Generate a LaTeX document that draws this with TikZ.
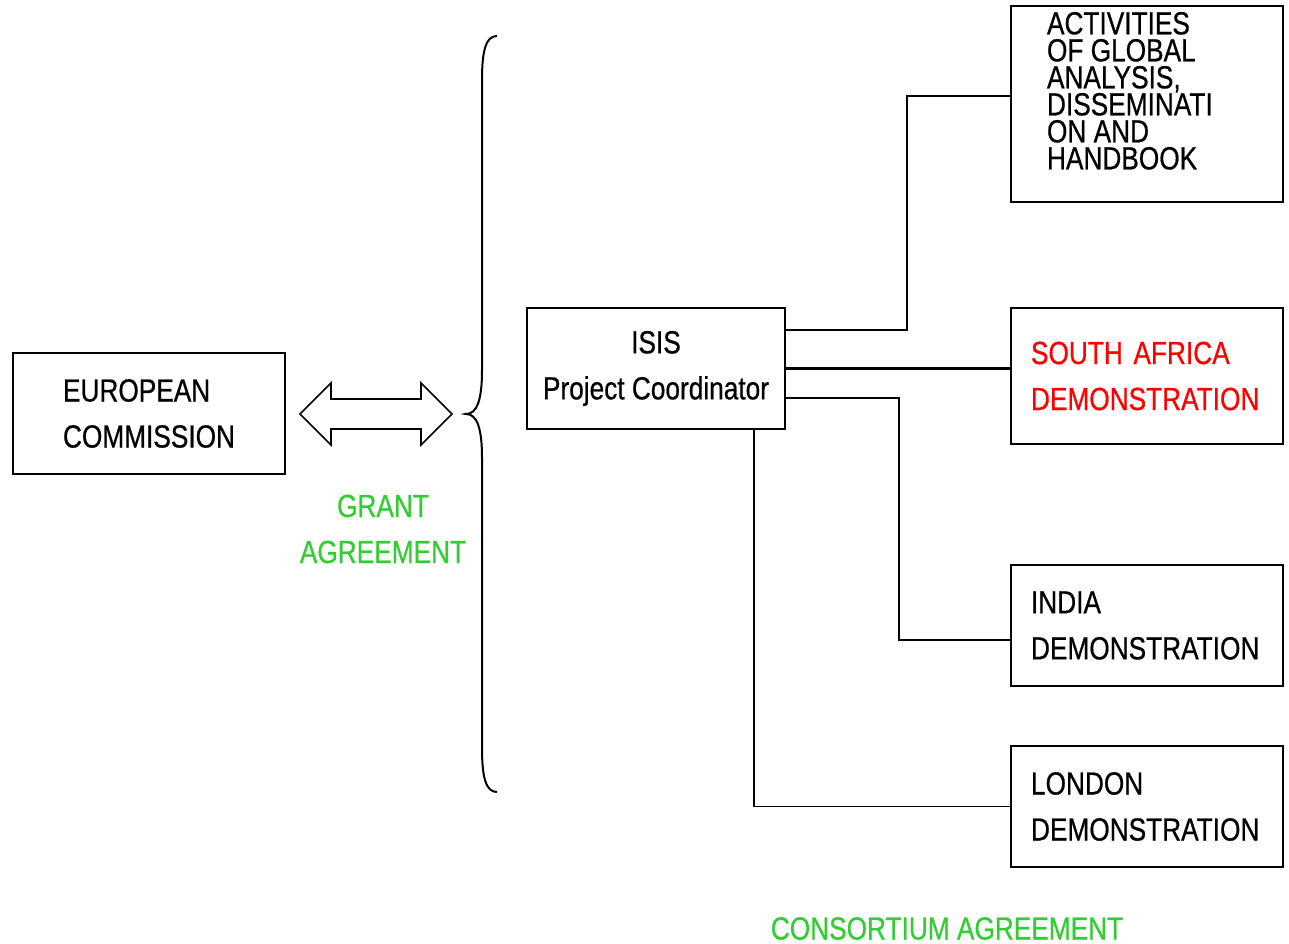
\documentclass[tikz,border=0pt]{standalone}
\usepackage{fontspec}
\setmainfont[FakeStretch=0.82,FakeBold=0.6]{Liberation Sans}
\usetikzlibrary{positioning}
\definecolor{grantgreen}{RGB}{51,204,51}
\definecolor{sared}{RGB}{255,0,0}

\begin{document}
\begin{tikzpicture}[x=1pt,y=-1pt,font=\fontsize{32}{46}\selectfont,
	box/.style={draw,line width=1.8pt,minimum width=272pt,minimum height=121pt,inner sep=0pt},
	link/.style={line width=1.6pt}]
	\useasboundingbox (0,0) rectangle (1289,944);
	\node[box,text width=172pt,align=left] (ec) at (149,413.5) {EUROPEAN\\COMMISSION};
	\node[box,minimum width=258pt,align=center] (isis) at (656,368.5) {ISIS\\Project Coordinator};
	\node[box,minimum height=196pt,inner xsep=36pt,inner ysep=3pt] (act) at (1147,104)
		{\parbox[c][190pt][t]{200pt}{\fontsize{32}{27}\selectfont\vspace*{3pt}ACTIVITIES\\OF GLOBAL\\ANALYSIS,\\DISSEMINATI\\ON AND\\HANDBOOK}};
	\node[box,minimum height=136pt,text width=232pt,align=left,text=sared,on grid] (sa) [below=272pt of act] {SOUTH AFRICA\\DEMONSTRATION};
	\node[box,text width=232pt,align=left,on grid] (india) [below=249.5pt of sa] {INDIA\\DEMONSTRATION};
	\node[box,text width=232pt,align=left,on grid] (london) [below=181pt of india] {LONDON\\DEMONSTRATION};
	\node[text=grantgreen,align=center,inner sep=0pt] (grant) at (383,529) {GRANT\\AGREEMENT};
	\node[text=grantgreen,inner sep=0pt] (consortium) at (947,928.5) {CONSORTIUM AGREEMENT};
	% grant agreement arrow and brace
	\draw[line width=1.6pt,line join=miter] (300,414) -- (331,383) -- (331,399) -- (421,399) -- (421,383)
		-- (452,414) -- (421,445) -- (421,429) -- (331,429) -- (331,445) -- cycle;
	\draw[line width=2pt] (497,36) .. controls (486,36) and (482,50) .. (482,80) -- (482,370)
		.. controls (482,400) and (477,414) .. (466,414) .. controls (477,414) and (482,428) .. (482,458)
		-- (482,748) .. controls (482,778) and (486,792) .. (497,792);
	% consortium links
	\draw[link] ([yshift=38.5pt]isis.east) -- ++(121,0) |- ([yshift=8pt]act.west);
	\draw[line width=3pt] (isis.east) -- (isis.east -| sa.west);
	\draw[link] ([yshift=-29.5pt]isis.east) -- ++(113,0) |- ([yshift=-14.5pt]india.west);
	\draw[link] ([xshift=98pt]isis.south) |- (london.west);
\end{tikzpicture}
\end{document}
